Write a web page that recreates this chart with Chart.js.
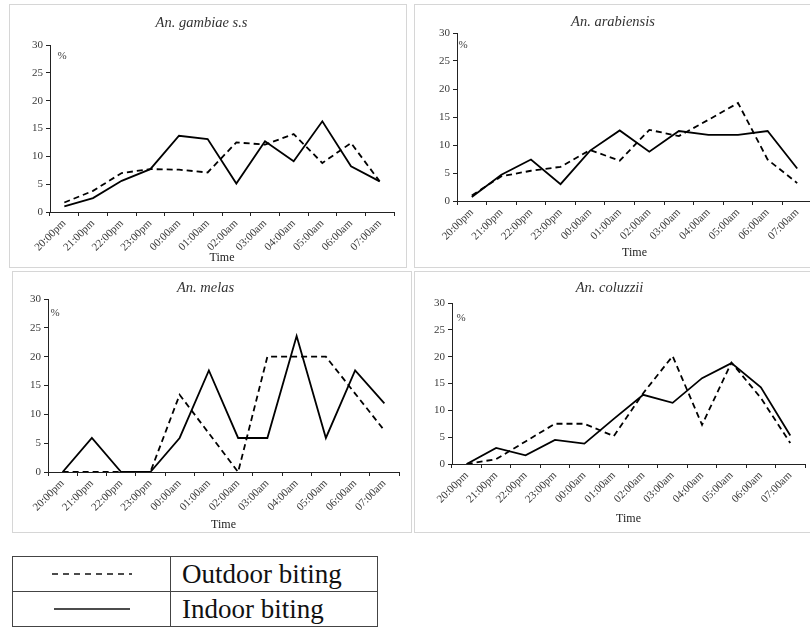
<!DOCTYPE html>
<html>
<head>
<meta charset="utf-8">
<script src="https://cdn.jsdelivr.net/npm/chart.js@4.4.0/dist/chart.umd.min.js"></script>
<style>
  html, body { margin: 0; padding: 0; background: #fff; width: 810px; height: 627px; overflow: hidden; }
  .panel { position: absolute; border: 1px solid #d6d6d6; box-sizing: border-box; overflow: hidden; }
  .panel canvas { position: absolute; left: -1px; top: -1px; }
  #legend { position: absolute; left: 12px; top: 556px; width: 366px; table-layout: fixed; border-collapse: collapse; font-family: "Liberation Serif", serif; font-size: 27px; color: #111; }
  #legend td { border: 1.5px solid #444; height: 34px; padding: 0; line-height: 30px; }
  #legend td.sample { width: 157px; text-align: center; }
  #legend td.label { padding-left: 11px; white-space: nowrap; }
  #legend svg { display: block; margin: 0 auto; }
</style>
</head>
<body>

<div class="panel" style="left:9px;top:4px;width:398px;height:264px"><canvas id="gambiae" width="398" height="264"></canvas></div>
<div class="panel" style="left:414px;top:4px;width:400px;height:264px"><canvas id="arabiensis" width="400" height="264"></canvas></div>
<div class="panel" style="left:12px;top:271px;width:400px;height:262px"><canvas id="melas" width="400" height="262"></canvas></div>
<div class="panel" style="left:414px;top:271px;width:400px;height:262px"><canvas id="coluzzii" width="400" height="262"></canvas></div>

<table id="legend">
  <tr>
    <td class="sample"><svg width="80" height="6"><line x1="0" y1="3" x2="80" y2="3" stroke="#111" stroke-width="1.5" stroke-dasharray="6,5"/></svg></td>
    <td class="label">Outdoor biting</td>
  </tr>
  <tr>
    <td class="sample"><svg width="76" height="6"><line x1="0" y1="3" x2="76" y2="3" stroke="#111" stroke-width="1.5"/></svg></td>
    <td class="label">Indoor biting</td>
  </tr>
</table>

<script>
// hours of collection (x axis)
var hours = ['20:00pm', '21:00pm', '22:00pm', '23:00pm', '00:00am', '01:00am',
             '02:00am', '03:00am', '04:00am', '05:00am', '06:00am', '07:00am'];
var yMax = 30;
var yStep = 5;

// % biting per hour
var gambiaeOutdoor    = [1.7, 3.8, 7.0, 7.7, 7.6, 7.1, 12.5, 12.1, 14.0, 8.8, 12.4, 5.5];
var gambiaeIndoor     = [1.0, 2.5, 5.6, 7.7, 13.7, 13.1, 5.1, 12.7, 9.1, 16.3, 8.2, 5.5];
var arabiensisOutdoor = [1.0, 4.4, 5.4, 6.1, 9.1, 7.2, 12.7, 11.6, 14.5, 17.5, 7.4, 3.2];
var arabiensisIndoor  = [0.7, 4.7, 7.4, 3.0, 9.0, 12.6, 8.8, 12.5, 11.8, 11.8, 12.5, 5.8];
var melasOutdoor      = [0, 0, 0, 0, 13.4, 6.7, 0, 20, 20, 20, 13.6, 7.2];
var melasIndoor       = [0, 5.9, 0, 0, 5.9, 17.6, 5.9, 5.9, 23.6, 5.9, 17.6, 11.9];
var coluzziiOutdoor   = [0, 0.9, 4.2, 7.5, 7.5, 5.2, 13.2, 20.1, 7.3, 18.9, 12.3, 3.9];
var coluzziiIndoor    = [0, 3.0, 1.6, 4.5, 3.8, 8.4, 12.9, 11.4, 16.0, 18.8, 14.3, 5.3];

var serif = '"Liberation Serif", "Times New Roman", serif';
var axisColor = '#222';
var tickColor = '#3a3a3a';

// little "%" unit drawn inside the plot, top left
var percentPlugin = {
  id: 'percent',
  afterDraw: function(chart, args, opts) {
    var a = chart.chartArea, ctx = chart.ctx;
    ctx.save();
    ctx.font = '11px ' + serif;
    ctx.fillStyle = tickColor;
    ctx.textAlign = 'center';
    ctx.textBaseline = 'middle';
    ctx.fillText('%', a.left + opts.dx, a.top + opts.dy);
    ctx.restore();
  }
};

// box = where the plot area and texts sit inside the canvas
function makeChart(id, title, outdoor, indoor, box) {
  var h = document.getElementById(id).height;
  var padBottom = h - box.timeY - 7.2;
  new Chart(document.getElementById(id), {
    type: 'line',
    data: {
      labels: hours,
      datasets: [{
        label: 'Outdoor biting',
        data: outdoor,
        borderColor: '#000',
        borderWidth: 1.8,
        borderDash: [6, 4],
        pointRadius: 0,
        tension: 0,
        fill: false
      }, {
        label: 'Indoor biting',
        data: indoor,
        borderColor: '#000',
        borderWidth: 1.8,
        pointRadius: 0,
        tension: 0,
        fill: false
      }]
    },
    options: {
      responsive: false,
      animation: false,
      layout: { padding: { left: 0, top: 0, right: box.right, bottom: padBottom } },
      plugins: {
        legend: { display: false },
        tooltip: { enabled: false },
        title: {
          display: true,
          text: title,
          color: '#333',
          font: { family: serif, size: 14.5, style: 'italic', weight: 'normal', lineHeight: 1.2 },
          padding: { top: box.titleY - 8.7, bottom: box.top - box.titleY - 8.7 }
        },
        percent: { dx: box.pctX, dy: box.pctY }
      },
      scales: {
        x: {
          type: 'category',
          offset: true,
          grid: { drawOnChartArea: false, drawTicks: true, tickLength: 4, offset: true, color: axisColor },
          border: { color: axisColor, width: 1 },
          ticks: {
            autoSkip: false, maxRotation: 45, minRotation: 45, padding: 1,
            color: tickColor, font: { family: serif, size: 11 }
          },
          title: { display: true, text: 'Time', color: '#222', padding: 0, font: { family: serif, size: 12, lineHeight: 1.2 } },
          afterFit: function(scale) { scale.height = h - padBottom - box.bottom; }
        },
        y: {
          min: 0,
          max: yMax,
          grid: { drawOnChartArea: false, drawTicks: true, tickLength: 4, color: axisColor },
          border: { color: axisColor, width: 1 },
          ticks: { stepSize: yStep, padding: 3, color: tickColor, font: { family: serif, size: 11 } },
          afterFit: function(scale) { scale.width = box.left; }
        }
      }
    },
    plugins: [percentPlugin]
  });
}

makeChart('gambiae', 'An. gambiae s.s', gambiaeOutdoor, gambiaeIndoor,
  { left: 41, top: 41, right: 13, bottom: 208, titleY: 19, timeY: 254, pctX: 12, pctY: 11 });
makeChart('arabiensis', 'An. arabiensis', arabiensisOutdoor, arabiensisIndoor,
  { left: 43, top: 29, right: 2, bottom: 197, titleY: 18, timeY: 249, pctX: 6, pctY: 12 });
makeChart('melas', 'An. melas', melasOutdoor, melasIndoor,
  { left: 36, top: 28, right: 13, bottom: 201, titleY: 17, timeY: 254, pctX: 7, pctY: 14 });
makeChart('coluzzii', 'An. coluzzii', coluzziiOutdoor, coluzziiIndoor,
  { left: 38, top: 32, right: 9, bottom: 193, titleY: 17, timeY: 248, pctX: 9, pctY: 15 });
</script>
</body>
</html>
